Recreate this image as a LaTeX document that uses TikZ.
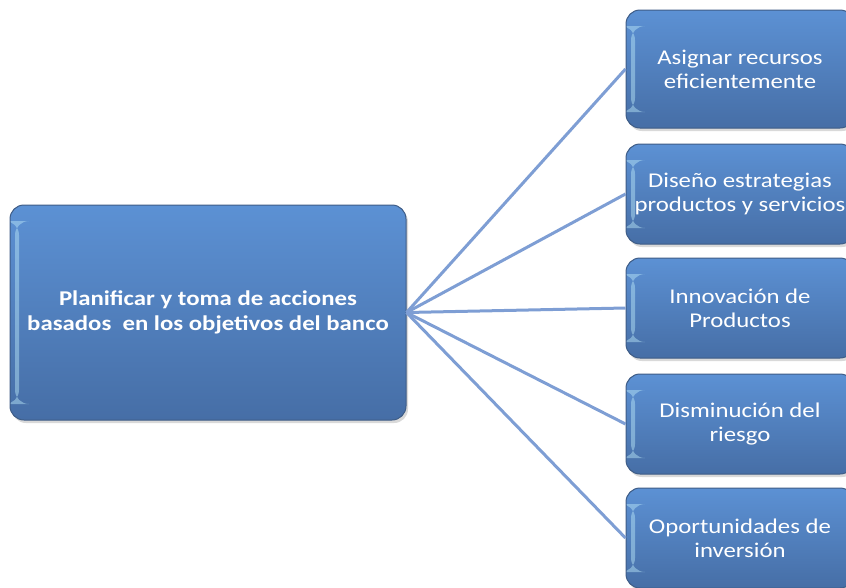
\documentclass[tikz,border=0pt]{standalone}
\usepackage{fontspec}
\setmainfont{Carlito}[FakeStretch=1.18]
\usepackage{tikz}
\usetikzlibrary{shadows}
\definecolor{boxtop}{RGB}{92,145,212}
\definecolor{boxbot}{RGB}{70,110,166}
\definecolor{boxedge}{RGB}{62,92,134}
\definecolor{linkblue}{RGB}{126,158,212}
\definecolor{gloss}{RGB}{190,235,250}
\tikzstyle{goal} = [rectangle, rounded corners=14pt, draw=boxedge, line width=1pt, top color=boxtop, bottom color=boxbot, text=white, align=center, drop shadow={opacity=0.3, shadow xshift=2pt, shadow yshift=-3pt},
  path picture={\fill[gloss, opacity=0.45] ([xshift=5pt,yshift=-16pt]path picture bounding box.north west) rectangle ([xshift=9pt,yshift=16pt]path picture bounding box.south west);}]
\tikzstyle{main} = [goal, minimum width=396pt, minimum height=215pt, font=\bfseries\fontsize{21}{25}\selectfont]
\tikzstyle{aim} = [goal, minimum width=228pt, minimum height=100pt, font=\fontsize{21}{24}\selectfont]
\tikzstyle{link} = [draw=linkblue, line width=3pt]

\begin{document}
\begin{tikzpicture}[x=1pt, y=-1pt]
\clip (0,0) rectangle (846,587);

\node[main] (plan) at (208,312.5) {Planificar y toma de acciones\\basados \ en los objetivos del banco};

\node[aim, minimum height=118pt] (recursos) at (740,69) {Asignar recursos\\eficientemente};
\node[aim] (estrategias) at (740,194) {Diseño estrategias\\productos y servicios};
\node[aim] (innovacion) at (740,308) {Innovación de\\Productos};
\node[aim] (riesgo) at (740,424) {Disminución del\\riesgo};
\node[aim] (inversion) at (740,538) {Oportunidades de\\inversión};

\draw[link] (plan.east) -- (recursos.west);
\draw[link] (plan.east) -- (estrategias.west);
\draw[link] (plan.east) -- (innovacion.west);
\draw[link] (plan.east) -- (riesgo.west);
\draw[link] (plan.east) -- (inversion.west);

\end{tikzpicture}
\end{document}
